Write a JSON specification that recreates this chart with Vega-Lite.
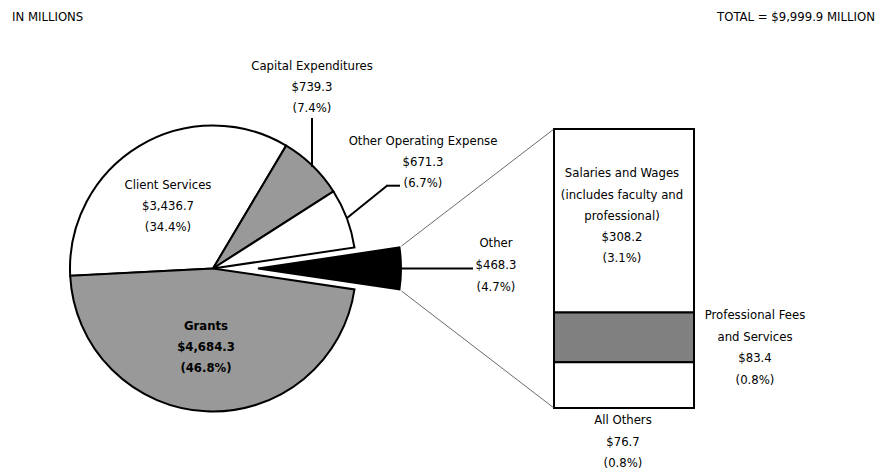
{
  "$schema": "https://vega.github.io/schema/vega-lite/v6.json",
  "width": 877,
  "height": 471,
  "autosize": {"type": "none"},
  "padding": 0,
  "background": "white",
  "config": {
    "view": {"stroke": null},
    "text": {"font": "DejaVu Sans Condensed, sans-serif", "fontSize": 13, "lineHeight": 21.3, "color": "#000", "baseline": "middle", "align": "center", "lineBreak": "\n"}
  },
  "datasets": {
    "pie": [
      {"cat": "Client Services", "value": 3436.7, "pct": 34.4, "ord": 1},
      {"cat": "Capital Expenditures", "value": 739.3, "pct": 7.4, "ord": 2},
      {"cat": "Other Operating Expense", "value": 671.3, "pct": 6.7, "ord": 3},
      {"cat": "Other", "value": 468.3, "pct": 4.7, "ord": 4},
      {"cat": "Grants", "value": 4684.3, "pct": 46.8, "ord": 5}
    ],
    "other": [
      {"cat": "Salaries and Wages", "label": "Salaries and Wages\n(includes faculty and\nprofessional)", "value": 308.2, "pct": 3.1, "ord": 3},
      {"cat": "Professional Fees and Services", "label": "Professional Fees\nand Services", "value": 83.4, "pct": 0.8, "ord": 2},
      {"cat": "All Others", "label": "All Others", "value": 76.7, "pct": 0.8, "ord": 1}
    ]
  },
  "layer": [
    {
      "data": {"name": "pie"},
      "mark": {"type": "arc", "x": 213, "y": 268.5, "radius": 143, "stroke": "black", "strokeWidth": 2},
      "encoding": {
        "theta": {"field": "value", "type": "quantitative", "stack": true, "scale": {"range": [4.6609, 10.9441]}},
        "order": {"field": "ord", "type": "quantitative"},
        "color": {"field": "cat", "type": "nominal", "legend": null,
          "scale": {"domain": ["Client Services", "Capital Expenditures", "Other Operating Expense", "Other", "Grants"], "range": ["#ffffff", "#999999", "#ffffff", "#000000", "#999999"]}},
        "opacity": {"condition": {"test": "datum.cat === 'Other'", "value": 0}, "value": 1}
      }
    },
    {
      "data": {"name": "pie"},
      "mark": {"type": "arc", "x": 258, "y": 268.5, "radius": 143, "stroke": "black", "strokeWidth": 2},
      "encoding": {
        "theta": {"field": "value", "type": "quantitative", "stack": true},
        "order": {"field": "ord", "type": "quantitative"},
        "color": {"field": "cat", "type": "nominal", "legend": null},
        "opacity": {"condition": {"test": "datum.cat === 'Other'", "value": 1}, "value": 0}
      }
    },
    {
      "data": {"name": "other"},
      "transform": [{"stack": "value", "groupby": [], "sort": [{"field": "ord", "order": "ascending"}], "offset": "zero", "as": ["v0", "v1"]}],
      "mark": {"type": "rect", "stroke": "black", "strokeWidth": 2},
      "encoding": {
        "x": {"value": 554},
        "x2": {"value": 694},
        "y": {"field": "v0", "type": "quantitative", "axis": null, "scale": {"domain": [0, 468.3], "range": [408, 129], "nice": false, "zero": true}},
        "y2": {"field": "v1"},
        "fill": {"field": "cat", "type": "nominal", "legend": null,
          "scale": {"domain": ["Salaries and Wages", "Professional Fees and Services", "All Others"], "range": ["#ffffff", "#808080", "#ffffff"]}}
      }
    },
    {
      "data": {"name": "pie"},
      "transform": [{"filter": "datum.cat === 'Other'"}],
      "mark": {"type": "rule", "stroke": "#444", "strokeWidth": 0.8},
      "encoding": {"x": {"value": 401.5}, "y": {"value": 246}, "x2": {"value": 554}, "y2": {"value": 129}}
    },
    {
      "data": {"name": "pie"},
      "transform": [{"filter": "datum.cat === 'Other'"}],
      "mark": {"type": "rule", "stroke": "#444", "strokeWidth": 0.8},
      "encoding": {"x": {"value": 401.5}, "y": {"value": 291}, "x2": {"value": 554}, "y2": {"value": 408}}
    },
    {
      "data": {"name": "pie"},
      "transform": [{"filter": "datum.cat === 'Other'"}],
      "mark": {"type": "rule", "stroke": "black", "strokeWidth": 2},
      "encoding": {"x": {"value": 401}, "y": {"value": 268.5}, "x2": {"value": 473}, "y2": {"value": 268.5}}
    },
    {
      "data": {"name": "pie"},
      "transform": [{"filter": "datum.cat === 'Capital Expenditures'"}],
      "mark": {"type": "rule", "stroke": "black", "strokeWidth": 2},
      "encoding": {"x": {"value": 312}, "y": {"value": 118}, "x2": {"value": 312}, "y2": {"value": 167}}
    },
    {
      "data": {"name": "pie"},
      "transform": [{"filter": "datum.cat === 'Other Operating Expense'"}],
      "mark": {"type": "rule", "stroke": "black", "strokeWidth": 2},
      "encoding": {"x": {"value": 347}, "y": {"value": 218}, "x2": {"value": 387}, "y2": {"value": 185.7}}
    },
    {
      "data": {"name": "pie"},
      "transform": [{"filter": "datum.cat === 'Other Operating Expense'"}],
      "mark": {"type": "rule", "stroke": "black", "strokeWidth": 2},
      "encoding": {"x": {"value": 386}, "y": {"value": 185.7}, "x2": {"value": 400}, "y2": {"value": 185.7}}
    },
    {
      "data": {"name": "pie"},
      "transform": [{"filter": "datum.cat === 'Client Services'"}, {"calculate": "datum.cat + '\\n$' + format(datum.value, ',.1f') + '\\n(' + format(datum.pct, '.1f') + '%)'", "as": "txt"}],
      "mark": {"type": "text", "x": 168, "y": 184.5},
      "encoding": {"text": {"field": "txt"}}
    },
    {
      "data": {"name": "pie"},
      "transform": [{"filter": "datum.cat === 'Grants'"}, {"calculate": "datum.cat + '\\n$' + format(datum.value, ',.1f') + '\\n(' + format(datum.pct, '.1f') + '%)'", "as": "txt"}],
      "mark": {"type": "text", "x": 206, "y": 325.7, "fontWeight": "bold"},
      "encoding": {"text": {"field": "txt"}}
    },
    {
      "data": {"name": "pie"},
      "transform": [{"filter": "datum.cat === 'Capital Expenditures'"}, {"calculate": "datum.cat + '\\n$' + format(datum.value, ',.1f') + '\\n(' + format(datum.pct, '.1f') + '%)'", "as": "txt"}],
      "mark": {"type": "text", "x": 312, "y": 65.8},
      "encoding": {"text": {"field": "txt"}}
    },
    {
      "data": {"name": "pie"},
      "transform": [{"filter": "datum.cat === 'Other Operating Expense'"}, {"calculate": "datum.cat + '\\n$' + format(datum.value, ',.1f') + '\\n(' + format(datum.pct, '.1f') + '%)'", "as": "txt"}],
      "mark": {"type": "text", "x": 423, "y": 140.5},
      "encoding": {"text": {"field": "txt"}}
    },
    {
      "data": {"name": "pie"},
      "transform": [{"filter": "datum.cat === 'Other'"}, {"calculate": "datum.cat + '\\n$' + format(datum.value, ',.1f') + '\\n(' + format(datum.pct, '.1f') + '%)'", "as": "txt"}],
      "mark": {"type": "text", "x": 496, "y": 242.5, "lineHeight": 22.2},
      "encoding": {"text": {"field": "txt"}}
    },
    {
      "data": {"name": "other"},
      "transform": [{"filter": "datum.cat === 'Salaries and Wages'"}, {"calculate": "datum.label + '\\n$' + format(datum.value, ',.1f') + '\\n(' + format(datum.pct, '.1f') + '%)'", "as": "txt"}],
      "mark": {"type": "text", "x": 622, "y": 173.3},
      "encoding": {"text": {"field": "txt"}}
    },
    {
      "data": {"name": "other"},
      "transform": [{"filter": "datum.cat === 'Professional Fees and Services'"}, {"calculate": "datum.label + '\\n$' + format(datum.value, ',.1f') + '\\n(' + format(datum.pct, '.1f') + '%)'", "as": "txt"}],
      "mark": {"type": "text", "x": 755, "y": 315.3, "lineHeight": 21.5},
      "encoding": {"text": {"field": "txt"}}
    },
    {
      "data": {"name": "other"},
      "transform": [{"filter": "datum.cat === 'All Others'"}, {"calculate": "datum.label + '\\n$' + format(datum.value, ',.1f') + '\\n(' + format(datum.pct, '.1f') + '%)'", "as": "txt"}],
      "mark": {"type": "text", "x": 623, "y": 420.3},
      "encoding": {"text": {"field": "txt"}}
    },
    {
      "data": {"name": "pie"},
      "transform": [{"aggregate": [{"op": "sum", "field": "value", "as": "total"}]}],
      "mark": {"type": "text", "x": 12, "y": 17, "align": "left", "fontSize": 13, "text": "IN MILLIONS"},
      "encoding": {}
    },
    {
      "data": {"name": "pie"},
      "transform": [{"aggregate": [{"op": "sum", "field": "value", "as": "total"}]}, {"calculate": "'TOTAL = $' + format(datum.total, ',.1f') + ' MILLION'", "as": "txt"}],
      "mark": {"type": "text", "x": 875, "y": 17, "align": "right", "fontSize": 13},
      "encoding": {"text": {"field": "txt"}}
    }
  ]
}
